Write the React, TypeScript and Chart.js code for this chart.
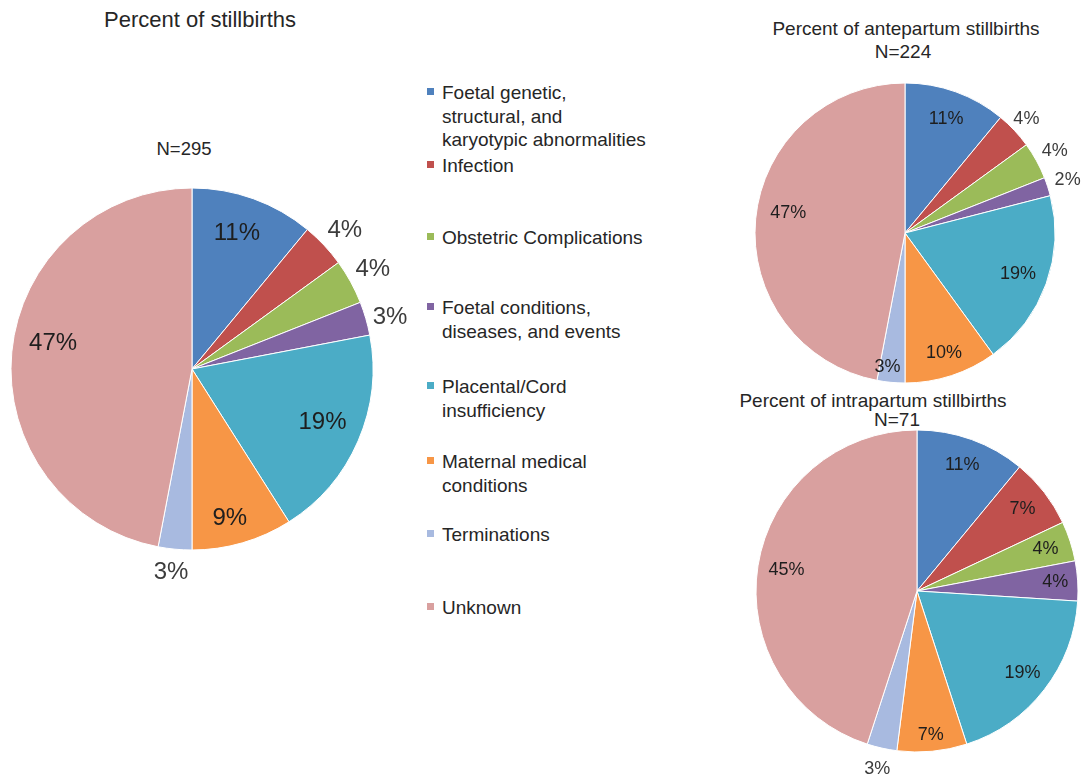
import React, { useEffect, useRef } from 'react';
import { Chart, registerables } from 'chart.js';

Chart.register(...registerables);

const FONT = '"Liberation Sans", Arial, Helvetica, sans-serif';

// ---- data ----
const categories = [
  'Foetal genetic, structural, and karyotypic abnormalities',
  'Infection',
  'Obstetric Complications',
  'Foetal conditions, diseases, and events',
  'Placental/Cord insufficiency',
  'Maternal medical conditions',
  'Terminations',
  'Unknown',
];
const legendLines = [
  'Foetal genetic,\nstructural, and\nkaryotypic abnormalities',
  'Infection',
  'Obstetric Complications',
  'Foetal conditions,\ndiseases, and events',
  'Placental/Cord\ninsufficiency',
  'Maternal medical\nconditions',
  'Terminations',
  'Unknown',
];
const allStillbirths = [11, 4, 4, 3, 19, 9, 3, 47];
const antepartumStillbirths = [11, 4, 4, 2, 19, 10, 3, 47];
const intrapartumStillbirths = [11, 7, 4, 4, 19, 7, 3, 45];

// ---- styles ----
const sliceColors = ['#4F81BD', '#C0504D', '#9BBB59', '#8064A2', '#4BACC6', '#F79646', '#A8BAE0', '#D9A09F'];
const legendCenters = [93, 166, 238, 308, 387, 462, 535, 608];

const sliceLabelPlugin = {
  id: 'sliceLabels',
  afterDatasetsDraw(chart: any, _args: any, opts: any) {
    const ctx = chart.ctx;
    const meta = chart.getDatasetMeta(0);
    const values = chart.data.datasets[0].data;
    ctx.save();
    ctx.font = `${opts.fontSize}px ${FONT}`;
    ctx.textAlign = 'center';
    ctx.textBaseline = 'middle';
    meta.data.forEach((arc: any, i: number) => {
      const p = arc.getProps(['x', 'y', 'startAngle', 'endAngle', 'outerRadius'], true);
      const mid = (p.startAngle + p.endAngle) / 2 + ((opts.nudge?.[i] || 0) * Math.PI) / 180;
      const f = opts.radial[i];
      const lx = p.x + Math.cos(mid) * p.outerRadius * f;
      const ly = p.y + Math.sin(mid) * p.outerRadius * f;
      ctx.fillStyle = f > 1 ? '#3c3c3c' : '#1e1e1e';
      ctx.fillText(`${values[i]}%`, lx, ly);
    });
    ctx.restore();
  },
};

function PieChart({ values, box, padding, radial, nudge, fontSize }: any) {
  const ref = useRef<HTMLCanvasElement>(null);
  useEffect(() => {
    const chart = new Chart(ref.current as HTMLCanvasElement, {
      type: 'pie',
      data: {
        labels: categories,
        datasets: [
          {
            data: values,
            backgroundColor: sliceColors,
            borderColor: '#ffffff',
            borderWidth: 1,
          },
        ],
      },
      options: {
        animation: false,
        responsive: true,
        maintainAspectRatio: false,
        layout: { padding },
        plugins: {
          legend: { display: false },
          tooltip: { enabled: false },
          sliceLabels: { radial, nudge, fontSize },
        } as any,
      },
      plugins: [sliceLabelPlugin],
    });
    return () => chart.destroy();
  }, []);
  return (
    <div style={{ position: 'absolute', left: box.x, top: box.y, width: box.w, height: box.h }}>
      <canvas ref={ref} />
    </div>
  );
}

function Text({ cx, cy, fs, children }: any) {
  return (
    <div
      style={{
        position: 'absolute',
        left: cx - 300,
        width: 600,
        top: cy - 0.49 * fs,
        fontSize: fs,
        lineHeight: 1,
        textAlign: 'center',
        color: '#262626',
        whiteSpace: 'nowrap',
        fontFamily: FONT,
      }}
    >
      {children}
    </div>
  );
}

export default function App() {
  return (
    <div
      style={{
        position: 'absolute',
        left: 0,
        top: 0,
        width: 1081,
        height: 782,
        background: '#ffffff',
        overflow: 'hidden',
        fontFamily: FONT,
      }}
    >
      <Text cx={200} cy={20} fs={22}>Percent of stillbirths</Text>
      <Text cx={184} cy={149} fs={18.5}>N=295</Text>
      <Text cx={906} cy={28} fs={19}>Percent of antepartum stillbirths</Text>
      <Text cx={903} cy={51} fs={19}>N=224</Text>
      <Text cx={873} cy={400} fs={19}>Percent of intrapartum stillbirths</Text>
      <Text cx={897} cy={419} fs={19}>N=71</Text>

      <PieChart
        values={allStillbirths}
        box={{ x: 0, y: 150, w: 420, h: 440 }}
        padding={{ left: 10.5, top: 37.5, right: 46.5, bottom: 39.5 }}
        radial={[0.79, 1.14, 1.14, 1.13, 0.78, 0.85, 1.13, 0.78]}
        nudge={[-1.5, 1, 0, 1.7, -1, 2, 0.5, 5]}
        fontSize={24}
      />
      <PieChart
        values={antepartumStillbirths}
        box={{ x: 730, y: 65, w: 351, h: 330 }}
        padding={{ left: 24.5, top: 17.5, right: 25.5, bottom: 11.5 }}
        radial={[0.81, 1.11, 1.14, 1.14, 0.8, 0.84, 0.9, 0.79]}
        nudge={[0, 0, 0, 0, 0, 0, 2, 4.3]}
        fontSize={18}
      />
      <PieChart
        values={intrapartumStillbirths}
        box={{ x: 730, y: 425, w: 351, h: 357 }}
        padding={{ left: 25.5, top: 4.5, right: 2.5, bottom: 29.5 }}
        radial={[0.83, 0.83, 0.84, 0.86, 0.83, 0.9, 1.13, 0.82]}
        nudge={[0, 0, 0, 0, 0, 0, 0, 0]}
        fontSize={18}
      />

      {legendLines.map((txt, i) => (
        <React.Fragment key={i}>
          <div
            style={{
              position: 'absolute',
              left: 427,
              top: legendCenters[i] - 5,
              width: 7,
              height: 7,
              background: sliceColors[i],
            }}
          />
          <div
            style={{
              position: 'absolute',
              left: 442,
              top: legendCenters[i] - 12,
              fontSize: 19,
              lineHeight: '23.5px',
              color: '#262626',
              whiteSpace: 'pre',
              fontFamily: FONT,
            }}
          >
            {txt}
          </div>
        </React.Fragment>
      ))}
    </div>
  );
}
